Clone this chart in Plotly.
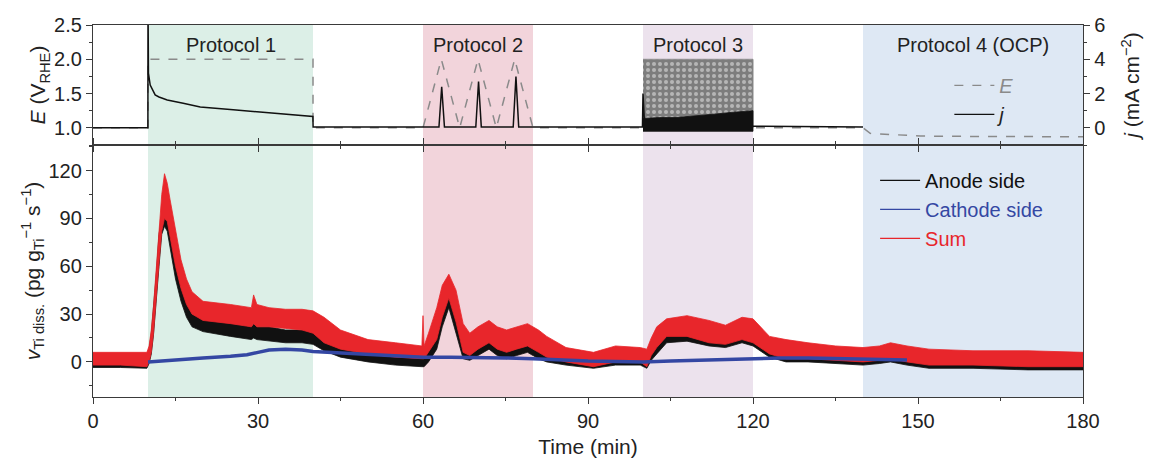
import plotly.graph_objects as go

# ---------------- data ----------------
# Protocol windows (min)
prot_names = ["Protocol 1", "Protocol 2", "Protocol 3", "Protocol 4 (OCP)"]
prot_start = [10, 60, 100, 140]
prot_end = [40, 80, 120, 180]
prot_colors = ["#dcefe7", "#f2d4db", "#ece2ed", "#dee8f4"]

# Top panel: potential E (V_RHE)
t_E = [0, 10, 10, 40, 40, 60, 63.33, 66.67, 70, 73.33, 76.67, 80, 100, 120, 140, 141.3, 145, 150.4, 160, 180]
E_val = [1.0, 1.0, 2.0, 2.0, 1.0, 1.0, 2.0, 1.0, 2.0, 1.0, 2.0, 1.0, 1.0, 1.0, 1.0, 0.92, 0.90, 0.88, 0.875, 0.87]
# Protocol 3 square-wave envelope of E
t_E3 = [100, 120]
E3_lo = [1.0, 1.0]
E3_hi = [2.0, 2.0]

# Top panel: current density j (mA cm-2)
t_j = [0, 9.98, 10.0, 10.08, 10.4, 11.3, 12, 13.5, 16.4, 19.5, 25.5, 31.6, 37.6, 39.98, 40.02, 60,
       62.9, 63.4, 63.9, 69.6, 70.1, 70.6, 76.4, 76.9, 77.4, 80, 99.9, 100.0, 100.15, 100.3, 120, 140]
j_val = [0, 0, 7.5, 3.2, 2.5, 1.92, 1.8, 1.63, 1.43, 1.22, 1.05, 0.89, 0.76, 0.66, 0.05, 0.05,
         0.05, 2.4, 0.05, 0.05, 2.7, 0.05, 0.05, 3.0, 0.05, 0.05, 0.05, 2.0, 0.3, 0.1, 0.1, 0.05]
# Protocol 3 current envelope
t_j3 = [100, 103, 106, 110, 113, 116, 120]
j3_lo = [-0.2, -0.2, -0.2, -0.2, -0.2, -0.2, -0.2]
j3_hi = [0.55, 0.6, 0.6, 0.7, 0.8, 0.9, 1.0]

# Bottom panel: dissolution rate envelopes (pg g_Ti^-1 s^-1)
t_b = [0, 5, 9.8, 10.2, 10.6, 11, 11.5, 12, 12.5, 13, 13.5, 14, 15, 16, 17, 18, 20, 25, 28.8, 29.2, 29.8,
       32, 35, 38, 40, 42, 45, 50, 55, 59.8, 60, 60.2, 61, 62.5, 63.5, 64.7, 66, 67.3, 68.5, 70, 72, 73.5,
       75.2, 77, 79, 81, 82.5, 86, 91, 95, 99.5, 100.7, 101.5, 102.5, 104.3, 108, 112, 115, 118, 120,
       123, 126, 130, 135, 140, 143, 145, 148, 152, 160, 170, 180]
sum_lo = [-2, -2, -3, 0, 6, 18, 38, 62, 82, 90, 88, 78, 60, 46, 36, 30, 26, 24, 22, 24, 22,
          22, 21, 20, 18, 12, 8, 5, 3, 2, 2, 2, 6, 14, 28, 40, 25, 6, 4, 8, 12, 8,
          6, 8, 10, 6, 3, 0, -3, 0, 0, -3, 4, 9, 16, 16, 12, 11, 14, 12,
          5, 2, 2, 1, 0, 1, 2, 0, -2, -2, -3, -3]
sum_hi = [6, 6, 6, 10, 20, 35, 58, 85, 105, 118, 112, 102, 82, 64, 52, 44, 38, 36, 34, 42, 36,
          34, 33, 33, 32, 28, 20, 14, 12, 10, 29, 10, 18, 34, 48, 55, 45, 24, 18, 22, 26, 22,
          20, 22, 24, 20, 16, 9, 6, 10, 9, 8, 15, 22, 27, 29, 26, 23, 28, 27,
          16, 14, 12, 10, 9, 10, 12, 10, 8, 7, 7, 6]
anode_lo = [-3.5, -3.5, -4, -1, 5, 17, 36, 60, 80, 85, 82, 72, 52, 38, 28, 22, 19, 16, 14, 15, 14,
            13, 12, 12, 11, 7, 3, 0, -2, -3, -3, -3, 0, 8, 22, 34, 18, 2, 1, 4, 8, 4,
            2, 4, 6, 2, 0, -2, -4, -2, -2, -4, 1, 5, 12, 13, 10, 9, 12, 10,
            3, 0, 0, -1, -2, -1, 0, -2, -4, -4, -5, -5]
anode_hi = [4, 4, 3, 8, 18, 33, 55, 80, 92, 92, 90, 86, 70, 50, 40, 30, 27, 24, 22, 24, 22,
            22, 20, 20, 20, 17, 12, 8, 6, 5, 5, 5, 10, 24, 38, 41, 32, 12, 8, 10, 13, 10,
            8, 9, 11, 8, 6, 4, 2, 4, 4, 3, 10, 15, 18, 20, 17, 16, 19, 18,
            10, 6, 5, 4, 3, 3, 4, 3, 1, 1, 1, 0]
t_c = [10, 15, 20, 25, 28, 30, 32, 35, 38, 40, 45, 50, 55, 60, 65, 70, 75, 80, 85, 90, 95, 100,
       105, 110, 115, 120, 125, 130, 135, 140, 145, 148]
cathode = [0, 1.5, 2.5, 3.5, 4.5, 6, 7.5, 8, 7.5, 6.5, 5.5, 4.5, 3.5, 3, 3, 3, 2.5, 2, 1, 0.5, 0.2, 0,
           0.5, 1, 1.8, 2, 2.5, 2.5, 2.2, 2, 1.5, 1.2]

x_ticks = [0, 30, 60, 90, 120, 150, 180]

# ---------------- styles ----------------
RED = "#e8262b"
BLUE = "#3447a3"
BLACK = "#111111"
GRAY = "#8a8a8a"
AX = "#3a3a3a"
FONT = "Liberation Sans, Arial, sans-serif"


def band(t, lo, hi):
    return list(t) + list(t)[::-1], list(hi) + list(lo)[::-1]


fig = go.Figure()

# ---- bottom panel ----
bx, by = band(t_b, anode_lo, anode_hi)
fig.add_trace(go.Scatter(x=bx, y=by, fill="toself", fillcolor=BLACK, mode="lines",
                         line=dict(color=BLACK, width=0.8), xaxis="x", yaxis="y", showlegend=False,
                         hoverinfo="skip"))
bx, by = band(t_b, sum_lo, sum_hi)
fig.add_trace(go.Scatter(x=bx, y=by, fill="toself", fillcolor=RED, mode="lines",
                         line=dict(color=RED, width=0.8), xaxis="x", yaxis="y", showlegend=False,
                         hoverinfo="skip"))
fig.add_trace(go.Scatter(x=t_c, y=cathode, mode="lines", line=dict(color=BLUE, width=3.5),
                         xaxis="x", yaxis="y", showlegend=False))

# legend entries for bottom panel
for name, col in [("Anode side", BLACK), ("Cathode side", BLUE), ("Sum", RED)]:
    fig.add_trace(go.Scatter(x=[None], y=[None], mode="lines", line=dict(color=col, width=1.3),
                             name=f"<span style='color:{col}'>{name}</span>", legend="legend2",
                             xaxis="x", yaxis="y"))

# ---- top panel ----
fig.add_trace(go.Scatter(x=t_E, y=E_val, mode="lines", line=dict(color=GRAY, width=1.5, dash="dash"),
                         xaxis="x2", yaxis="y2", showlegend=False))
ex, ey = band(t_E3, E3_lo, E3_hi)
fig.add_trace(go.Scatter(x=ex, y=ey, fill="toself", mode="lines", line=dict(color=GRAY, width=1),
                         fillcolor="#808080",
                         fillpattern=dict(shape=".", bgcolor="#7d7d7d", fgcolor="#f0f0f0",
                                          size=6, solidity=0.35),
                         xaxis="x2", yaxis="y2", showlegend=False, hoverinfo="skip"))
fig.add_trace(go.Scatter(x=t_j, y=j_val, mode="lines", line=dict(color=BLACK, width=1.5),
                         xaxis="x2", yaxis="y3", showlegend=False))
jx, jy = band(t_j3, j3_lo, j3_hi)
fig.add_trace(go.Scatter(x=jx, y=jy, fill="toself", fillcolor=BLACK, mode="lines",
                         line=dict(color=BLACK, width=0.8), xaxis="x2", yaxis="y3",
                         showlegend=False, hoverinfo="skip"))

# legend entries for top panel
fig.add_trace(go.Scatter(x=[None], y=[None], mode="lines", line=dict(color=GRAY, width=1.3, dash="dash"),
                         name=f"<span style='color:{GRAY}'><i>E</i></span>", legend="legend",
                         xaxis="x2", yaxis="y2"))
fig.add_trace(go.Scatter(x=[None], y=[None], mode="lines", line=dict(color=BLACK, width=1.3),
                         name="<i>j</i>", legend="legend", xaxis="x2", yaxis="y3"))

# shaded protocol regions + labels
shapes = []
annos = []
for s, e, c, n in zip(prot_start, prot_end, prot_colors, prot_names):
    shapes.append(dict(type="rect", xref="x", yref="paper", x0=s, x1=e, y0=0, y1=1,
                       fillcolor=c, line=dict(width=0), layer="below"))
    annos.append(dict(x=(s + e) / 2, y=0.946, xref="x", yref="paper", text=n, showarrow=False,
                      font=dict(size=20, color="#222", family=FONT), xanchor="center", yanchor="middle"))

split = (397 - 145) / 372

common_axis = dict(showline=True, linecolor=AX, linewidth=1.3, showgrid=False, zeroline=False,
                   ticks="outside", tickcolor=AX, tickwidth=1.3)

fig.update_layout(
    width=1163, height=463,
    margin=dict(l=93, r=80, t=25, b=66, autoexpand=False),
    paper_bgcolor="white", plot_bgcolor="rgba(0,0,0,0)",
    font=dict(family=FONT, size=20, color="#222"),
    shapes=shapes, annotations=annos,
    xaxis=dict(domain=[0, 1], anchor="y", range=[0, 180], tickvals=x_ticks, ticklen=6,
               mirror="allticks", minor=dict(dtick=15, tick0=0, ticklen=3, ticks="outside", tickcolor=AX),
               tickfont=dict(size=20), automargin=False,
               title=dict(text="Time (min)", font=dict(size=21), standoff=8),
               **common_axis),
    xaxis2=dict(domain=[0, 1], anchor="y2", range=[0, 180], tickvals=x_ticks, ticklen=6,
                showticklabels=False, mirror=True,
                minor=dict(dtick=15, tick0=0, ticklen=3, ticks="outside", tickcolor=AX),
                **common_axis),
    yaxis=dict(domain=[0, split], anchor="x", range=[-22, 136], tickvals=[0, 30, 60, 90, 120],
               ticklen=6, mirror=True, minor=dict(dtick=15, tick0=0, ticklen=3, ticks="outside", tickcolor=AX),
               tickfont=dict(size=20), automargin=False,
               title=dict(text="<i>v</i><sub>Ti diss.</sub> (pg g<sub>Ti</sub><sup>−1</sup> s<sup>−1</sup>)",
                          font=dict(size=21), standoff=2),
               **common_axis),
    yaxis2=dict(domain=[split, 1], anchor="x2", range=[0.75, 2.5], tickvals=[1.0, 1.5, 2.0, 2.5],
                ticktext=["1.0", "1.5", "2.0", "2.5"], ticklen=6,
                minor=dict(dtick=0.25, tick0=0.75, ticklen=3, ticks="outside", tickcolor=AX),
                tickfont=dict(size=20), automargin=False,
                title=dict(text="<i>E</i> (V<sub>RHE</sub>)", font=dict(size=21), standoff=2),
                **common_axis),
    yaxis3=dict(overlaying="y2", anchor="x2", side="right", range=[-1, 6], tickvals=[0, 2, 4, 6],
                ticklen=6, minor=dict(dtick=1, tick0=-1, ticklen=3, ticks="outside", tickcolor=AX),
                tickfont=dict(size=20), automargin=False,
                title=dict(text="<i>j</i> (mA cm<sup>−2</sup>)", font=dict(size=21), standoff=20),
                **common_axis),
    legend=dict(x=0.865, y=0.89, xanchor="left", yanchor="top", bgcolor="rgba(0,0,0,0)",
                font=dict(size=20), itemwidth=40, tracegroupgap=0),
    legend2=dict(x=0.79, y=0.635, xanchor="left", yanchor="top", bgcolor="rgba(0,0,0,0)",
                 font=dict(size=20), itemwidth=40, tracegroupgap=0),
)

fig.write_html("out.html")
